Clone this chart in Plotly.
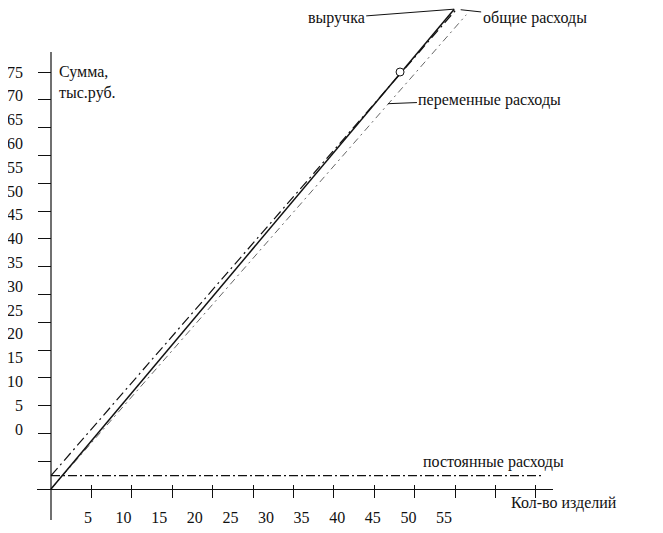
import plotly.graph_objects as go

# --- data (x: units, y: thousand rubles) ---
revenue_x = [0, 49.9]
revenue_y = [0, 86.3]
total_x = [0, 50.6]
total_y = [2.4, 87.0]
variable_x = [0, 51.4]
variable_y = [0, 85.3]
fixed_x = [0, 60.8]
fixed_y = [2.4, 2.4]
breakeven_x = [43.2]
breakeven_y = [75.0]

x_labels = [5, 10, 15, 20, 25, 30, 35, 40, 45, 50, 55]
y_labels = [0, 5, 10, 15, 20, 25, 30, 35, 40, 45, 50, 55, 60, 65, 70, 75]
x_marks = [5, 10, 15, 20, 25, 30, 35, 40, 45, 50, 55, 60]
y_marks = [5, 10, 15, 20, 25, 30, 35, 40, 45, 50, 55, 60, 65, 70, 75]

# --- page geometry, in page pixels (the html body adds an 8px margin) ---
M = 8
W, H = 663 - M, 533 - M
box_l, box_r, box_t, box_b = 37, 553, 52, 520
clip_t = M                      # traces may run right up to the top edge
org_x, org_y = 51, 489          # where the axes cross
sx, sy = 8.08, 5.56             # px per unit on the drawn axes
# tick labels in the original sit on their own (slightly squeezed) scale
lab_x0, lab_sx = 52.4, 7.12
lab_y0, lab_sy = 429, 4.76


def fx(px):
    return (px - M) / W


def fy(py):
    return 1 - (py - M) / H


ink = "#111111"
font = dict(family="Liberation Serif", size=16, color=ink)

xdom = [fx(box_l), fx(box_r)]
ydom = [fy(box_b), fy(clip_t)]
xpos = fy(org_y)
ypos = fx(org_x)
xrange_ = [(box_l - org_x) / sx, (box_r - org_x) / sx]

fig = go.Figure()

fig.add_trace(go.Scatter(x=fixed_x, y=fixed_y, mode="lines",
                         line=dict(color=ink, width=1.1, dash="9px,3px,2px,3px"),
                         name="постоянные расходы"))
fig.add_trace(go.Scatter(x=variable_x, y=variable_y, mode="lines",
                         line=dict(color="#666666", width=1, dash="7px,4px,2px,4px"),
                         name="переменные расходы"))
fig.add_trace(go.Scatter(x=total_x, y=total_y, mode="lines",
                         line=dict(color=ink, width=1.2, dash="10px,4px,2px,4px"),
                         name="общие расходы"))
fig.add_trace(go.Scatter(x=revenue_x, y=revenue_y, mode="lines",
                         line=dict(color=ink, width=1.5), name="выручка"))
fig.add_trace(go.Scatter(x=breakeven_x, y=breakeven_y, mode="markers",
                         marker=dict(size=8, color="white", line=dict(color=ink, width=1)),
                         name="точка безубыточности"))

# helper traces so the overlay axes get drawn
fig.add_trace(go.Scatter(x=[None], y=[None], xaxis="x2", yaxis="y2", showlegend=False, hoverinfo="skip"))
fig.add_trace(go.Scatter(x=[None], y=[None], xaxis="x3", yaxis="y", showlegend=False, hoverinfo="skip"))

# the vertical axis line stops short of the top, unlike the plotting area
fig.add_shape(type="line", xref="x", yref="paper", x0=0, x1=0, y0=fy(box_b), y1=fy(box_t),
              line=dict(color=ink, width=1.2), layer="above")

# leader labels
lead = dict(showarrow=True, arrowhead=0, arrowwidth=1, arrowcolor=ink, standoff=0)
fig.add_annotation(x=revenue_x[-1], y=revenue_y[-1], text="выручка", ax=-118, ay=9, **lead)
fig.add_annotation(x=50.7, y=86.2, text="общие расходы", ax=74, ay=8, **lead)
fig.add_annotation(x=41.7, y=69.3, text="переменные расходы", ax=102, ay=-4, **lead)
plain = dict(xref="paper", yref="paper", yanchor="middle", showarrow=False)
fig.add_annotation(x=fx(493), y=fy(462), xanchor="center", text="постоянные расходы", **plain)
fig.add_annotation(x=fx(509), y=fy(503), xanchor="left", text="Кол-во изделий", **plain)
fig.add_annotation(x=fx(57), y=fy(83), xanchor="left", align="left",
                   text="Сумма,<br>тыс.руб.", **plain)

axis_common = dict(showgrid=False, zeroline=False, fixedrange=True)

fig.update_layout(
    width=W, height=H, margin=dict(l=0, r=0, t=0, b=0),
    paper_bgcolor="white", plot_bgcolor="white",
    font=font, showlegend=False,
    # x: line + outward marks, inward marks, and the labels on their own scale
    xaxis=dict(domain=xdom, range=xrange_, anchor="free", position=xpos,
               showline=True, linecolor=ink, linewidth=1.2,
               tickmode="array", tickvals=x_marks, showticklabels=False,
               ticks="outside", ticklen=8, tickwidth=1.2, tickcolor=ink, **axis_common),
    xaxis3=dict(domain=xdom, range=xrange_, overlaying="x", anchor="free", position=xpos,
                showline=False, tickmode="array", tickvals=x_marks, showticklabels=False,
                ticks="inside", ticklen=4, tickwidth=1.2, tickcolor=ink, **axis_common),
    xaxis2=dict(domain=xdom, overlaying="x", anchor="free", position=xpos,
                range=[(box_l - lab_x0) / lab_sx, (box_r - lab_x0) / lab_sx],
                showline=False, ticks="", tickmode="array", tickvals=x_labels,
                ticklabelstandoff=17, **axis_common),
    # y: outward marks on the data scale, labels on their own scale
    yaxis=dict(domain=ydom, anchor="free", position=ypos,
               range=[(org_y - box_b) / sy, (org_y - clip_t) / sy],
               showline=False, tickmode="array", tickvals=y_marks, showticklabels=False,
               ticks="outside", ticklen=13, tickwidth=1.2, tickcolor=ink, **axis_common),
    yaxis2=dict(domain=ydom, overlaying="y", anchor="free", position=ypos,
                range=[(lab_y0 - box_b) / lab_sy, (lab_y0 - clip_t) / lab_sy],
                showline=False, ticks="", tickmode="array", tickvals=y_labels,
                ticklabelstandoff=28, **axis_common),
)

fig.write_html("out.html")
